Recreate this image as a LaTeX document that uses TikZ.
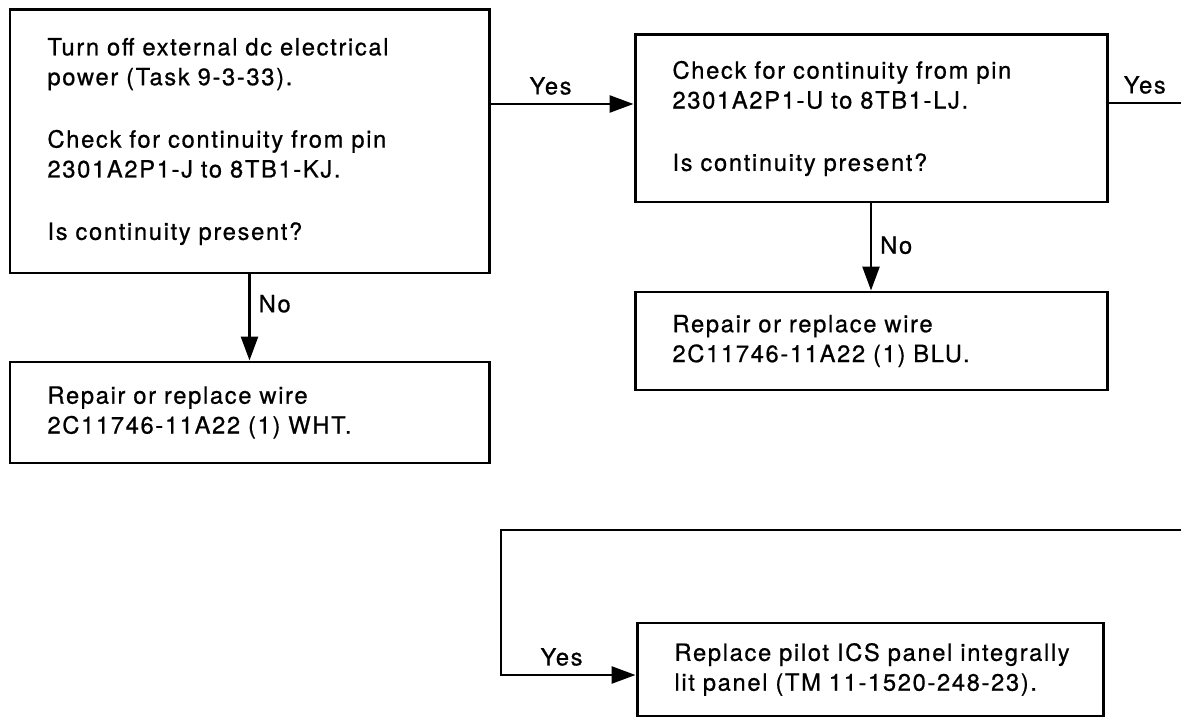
\documentclass[tikz,border=0pt]{standalone}
\usepackage{fontspec}
\setmainfont{TeX Gyre Heros}[LetterSpace=7,FakeBold=0.7]
\usetikzlibrary{arrows.meta}
\newcommand{\boxfont}{\fontsize{13.5}{17}\selectfont}

\begin{document}
\begin{tikzpicture}[>={Triangle[length=.48cm,width=.34cm]},line join=miter,
 procbox/.style={draw,line width=1.7pt,align=left,inner xsep=.75cm,inner ysep=0pt,font=\boxfont},
 flow/.style={->,line width=1.5pt},
 tag/.style={font=\boxfont,inner sep=4.5pt}]
\useasboundingbox (0,0) rectangle (23.62,14.4);
\node[procbox,text width=8.08cm,minimum height=5.26cm] (checkJ) at (4.99,11.57)
 {Turn off external dc electrical\\ power (Task 9-3-33).\\[18.5pt]
  Check for continuity from pin\\ 2301A2P1-J to 8TB1-KJ.\\[18.5pt]
  Is continuity present?};
\node[procbox,text width=7.94cm,minimum height=3.34cm] (checkU) at (17.42,12.03)
 {Check for continuity from pin\\ 2301A2P1-U to 8TB1-LJ.\\[18.5pt]
  Is continuity present?};
\node[procbox,text width=8.08cm,minimum height=2.02cm] (wireWHT) at (4.99,6.15)
 {Repair or replace wire\\ 2C11746-11A22 (1) WHT.};
\node[procbox,text width=7.94cm,minimum height=1.96cm] (wireBLU) at (17.42,7.58)
 {Repair or replace wire\\ 2C11746-11A22 (1) BLU.};
\node[procbox,text width=7.82cm,minimum height=1.86cm] (panel) at (17.4,1.01)
 {\mbox{Replace pilot ICS panel integrally}\\ lit panel (TM 11-1520-248-23).};
\coordinate (exitU) at (23.62,12.34);
\coordinate (loopin) at (23.62,3.8);
\draw[flow] (checkJ.east |- 0,12.32) -- (checkU.west |- 0,12.32) node[tag,above,pos=.42] {Yes};
\draw[line width=1.5pt] (checkU.east |- exitU) -- (exitU) node[tag,above,midway] {Yes};
\draw[flow] (checkJ.south) -- (wireWHT.north) node[tag,right,pos=.34] {No};
\draw[flow] (checkU.south) -- (wireBLU.north) node[tag,right,pos=.48] {No};
\draw[flow] (loopin) -| (10.02,.9) -- (panel.west |- 0,.9) node[tag,above,pos=.45] {Yes};
\end{tikzpicture}
\end{document}
